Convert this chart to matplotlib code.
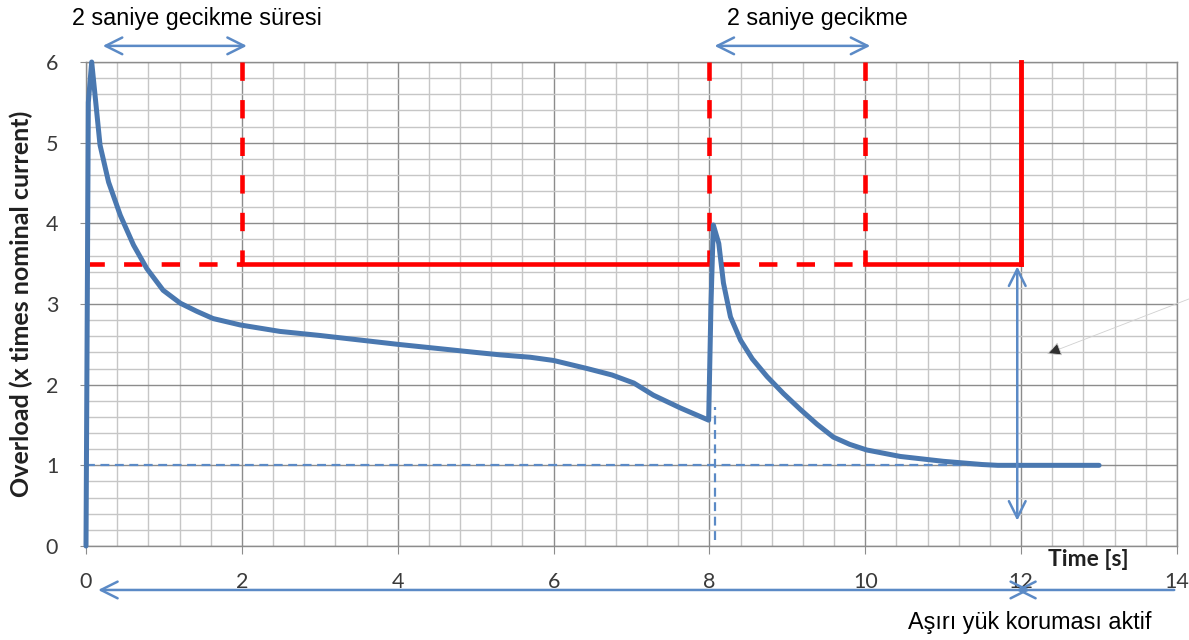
import matplotlib
matplotlib.use("Agg")
import matplotlib.pyplot as plt
from matplotlib.ticker import MultipleLocator

# Data
t = [0.0, 0.03, 0.073, 0.12, 0.18, 0.29, 0.44, 0.61, 0.78, 0.99, 1.21, 1.42, 1.63, 1.98,
     2.49, 3.0, 3.5, 4.0, 4.5, 5.0, 5.31, 5.7, 6.0, 6.43, 6.75, 7.03, 7.28, 7.63, 7.99,
     8.02, 8.05, 8.12, 8.18, 8.27, 8.4, 8.55, 8.74, 8.95, 9.17, 9.38, 9.59, 9.8, 10.02,
     10.45, 11.0, 11.5, 11.7, 12.0, 12.5, 13.0]
overload = [0.0, 5.5, 6.0, 5.55, 4.97, 4.51, 4.10, 3.73, 3.44, 3.17, 3.01, 2.91, 2.82, 2.74,
            2.66, 2.61, 2.555, 2.5, 2.45, 2.4, 2.37, 2.34, 2.30, 2.20, 2.12, 2.02, 1.87, 1.71, 1.56,
            3.0, 3.98, 3.75, 3.26, 2.84, 2.55, 2.32, 2.10, 1.89, 1.69, 1.51, 1.35, 1.26, 1.19,
            1.11, 1.05, 1.01, 1.0, 1.0, 1.0, 1.0]
threshold = 3.5
nominal = 1.0
delay_windows = [(0.0, 2.0), (8.0, 10.0)]
trip_time = 12.0
x_ticks = [0, 2, 4, 6, 8, 10, 12, 14]
y_ticks = [0, 1, 2, 3, 4, 5, 6]

BLUE = "#4a78b0"
ARROW = "#5b8ac6"
RED = "#ff0000"
RDASH = (0, (4, 4.2))

fig = plt.figure(figsize=(11.89, 6.40), dpi=100)
ax = fig.add_axes([86/1189, 1 - 546/640, (1177-86)/1189, (546-62)/640])
ax.set_xlim(0, 14)
ax.set_ylim(0, 6)

# grid
ax.xaxis.set_major_locator(MultipleLocator(2))
ax.xaxis.set_minor_locator(MultipleLocator(0.4))
ax.yaxis.set_major_locator(MultipleLocator(1))
ax.yaxis.set_minor_locator(MultipleLocator(0.2))
ax.grid(which="major", color="#8c8c8c", linewidth=1.0)
ax.grid(which="minor", color="#c6c6c6", linewidth=1.0)
ax.set_axisbelow(True)
for s in ax.spines.values():
    s.set_color("#8c8c8c")
    s.set_linewidth(1.0)
ax.tick_params(which="minor", length=0)
ax.tick_params(axis="x", which="major", length=6, color="#8c8c8c", pad=13,
               labelsize=15.5, labelcolor="#3a3a3a")
ax.tick_params(axis="y", which="major", length=4, color="#8c8c8c", pad=16,
               labelsize=15.5, labelcolor="#3a3a3a")
ax.set_xticks(x_ticks)
ax.set_yticks(y_ticks)
for lbl in ax.get_xticklabels() + ax.get_yticklabels():
    lbl.set_family("Lato")

ax.set_ylabel("Overload (x times nominal current)", fontsize=18, fontweight="bold",
              family="Lato", color="#202020", labelpad=9)
ax.text(12.86, -0.17, "Time [s]", fontsize=16.5, fontweight="bold", family="Lato",
        ha="center", va="center", color="#202020", clip_on=False)

# nominal dashed line
ax.plot([0, 11.5], [nominal, nominal], color=ARROW, lw=1.6, ls=(0, (4, 2.5)), zorder=2)
# dashed vertical near 8
ax.plot([8.07, 8.07], [0.07, 1.72], color=ARROW, lw=1.6, ls=(0, (4, 2.5)), zorder=2)

# red threshold lines
d0, d1 = delay_windows
ax.plot([d0[0], d0[1]], [threshold, threshold], color=RED, lw=3.3, ls=RDASH, zorder=3)
ax.plot([d0[1], d1[0]], [threshold, threshold], color=RED, lw=3.3, zorder=3)
ax.plot([d1[0] + 0.15, d1[1]], [threshold, threshold], color=RED, lw=3.3, ls=RDASH, zorder=3)
ax.plot([d1[1], trip_time], [threshold, threshold], color=RED, lw=3.3, zorder=3)
for xv in [d0[1], d1[0], d1[1]]:
    ax.plot([xv, xv], [6, threshold], color=RED, lw=3.3, ls=RDASH, zorder=3)
ax.plot([trip_time, trip_time], [threshold, 6], color=RED, lw=3.5, zorder=3, clip_on=False)

# main curve
ax.plot(t, overload, color=BLUE, lw=3.6, zorder=4, solid_joinstyle="round",
        solid_capstyle="round", clip_on=False)

arr = dict(arrowstyle="<->", color=ARROW, lw=1.8, mutation_scale=30)
# top arrows
ax.annotate("", xy=(0.18, 6.2), xytext=(2.1, 6.2), xycoords="data",
            arrowprops=arr, annotation_clip=False)
ax.annotate("", xy=(8.03, 6.2), xytext=(10.1, 6.2), xycoords="data",
            arrowprops=arr, annotation_clip=False)
# vertical arrow at 12
ax.annotate("", xy=(11.95, threshold), xytext=(11.95, 0.28),
            arrowprops=arr, annotation_clip=False, zorder=5)
# bottom arrows
ax.annotate("", xy=(0.12, -0.545), xytext=(12.15, -0.545),
            arrowprops=arr, annotation_clip=False)
ax.annotate("", xy=(11.9, -0.545), xytext=(14.0, -0.545),
            arrowprops=dict(arrowstyle="->", color=ARROW, lw=1.8, mutation_scale=30),
            annotation_clip=False)

# small pointer
ax.annotate("", xy=(12.3, 2.37), xytext=(14.2, 3.08),
            arrowprops=dict(arrowstyle="-|>", color="#d0d0d0", lw=0.6,
                            mutation_scale=22, fc="#303030", ec="#d0d0d0"),
            annotation_clip=False)

# texts
fig.text(197/1189, 1 - 18/640, "2 saniye gecikme süresi", fontsize=16.8,
         family="Liberation Sans", ha="center", va="center")
fig.text(817/1189, 1 - 18/640, "2 saniye gecikme", fontsize=16.8,
         family="Liberation Sans", ha="center", va="center")
fig.text(1030/1189, 1 - 622/640, "Aşırı yük koruması aktif", fontsize=16.8,
         family="Liberation Sans", ha="center", va="center")

fig.savefig("out.png", dpi=100)
